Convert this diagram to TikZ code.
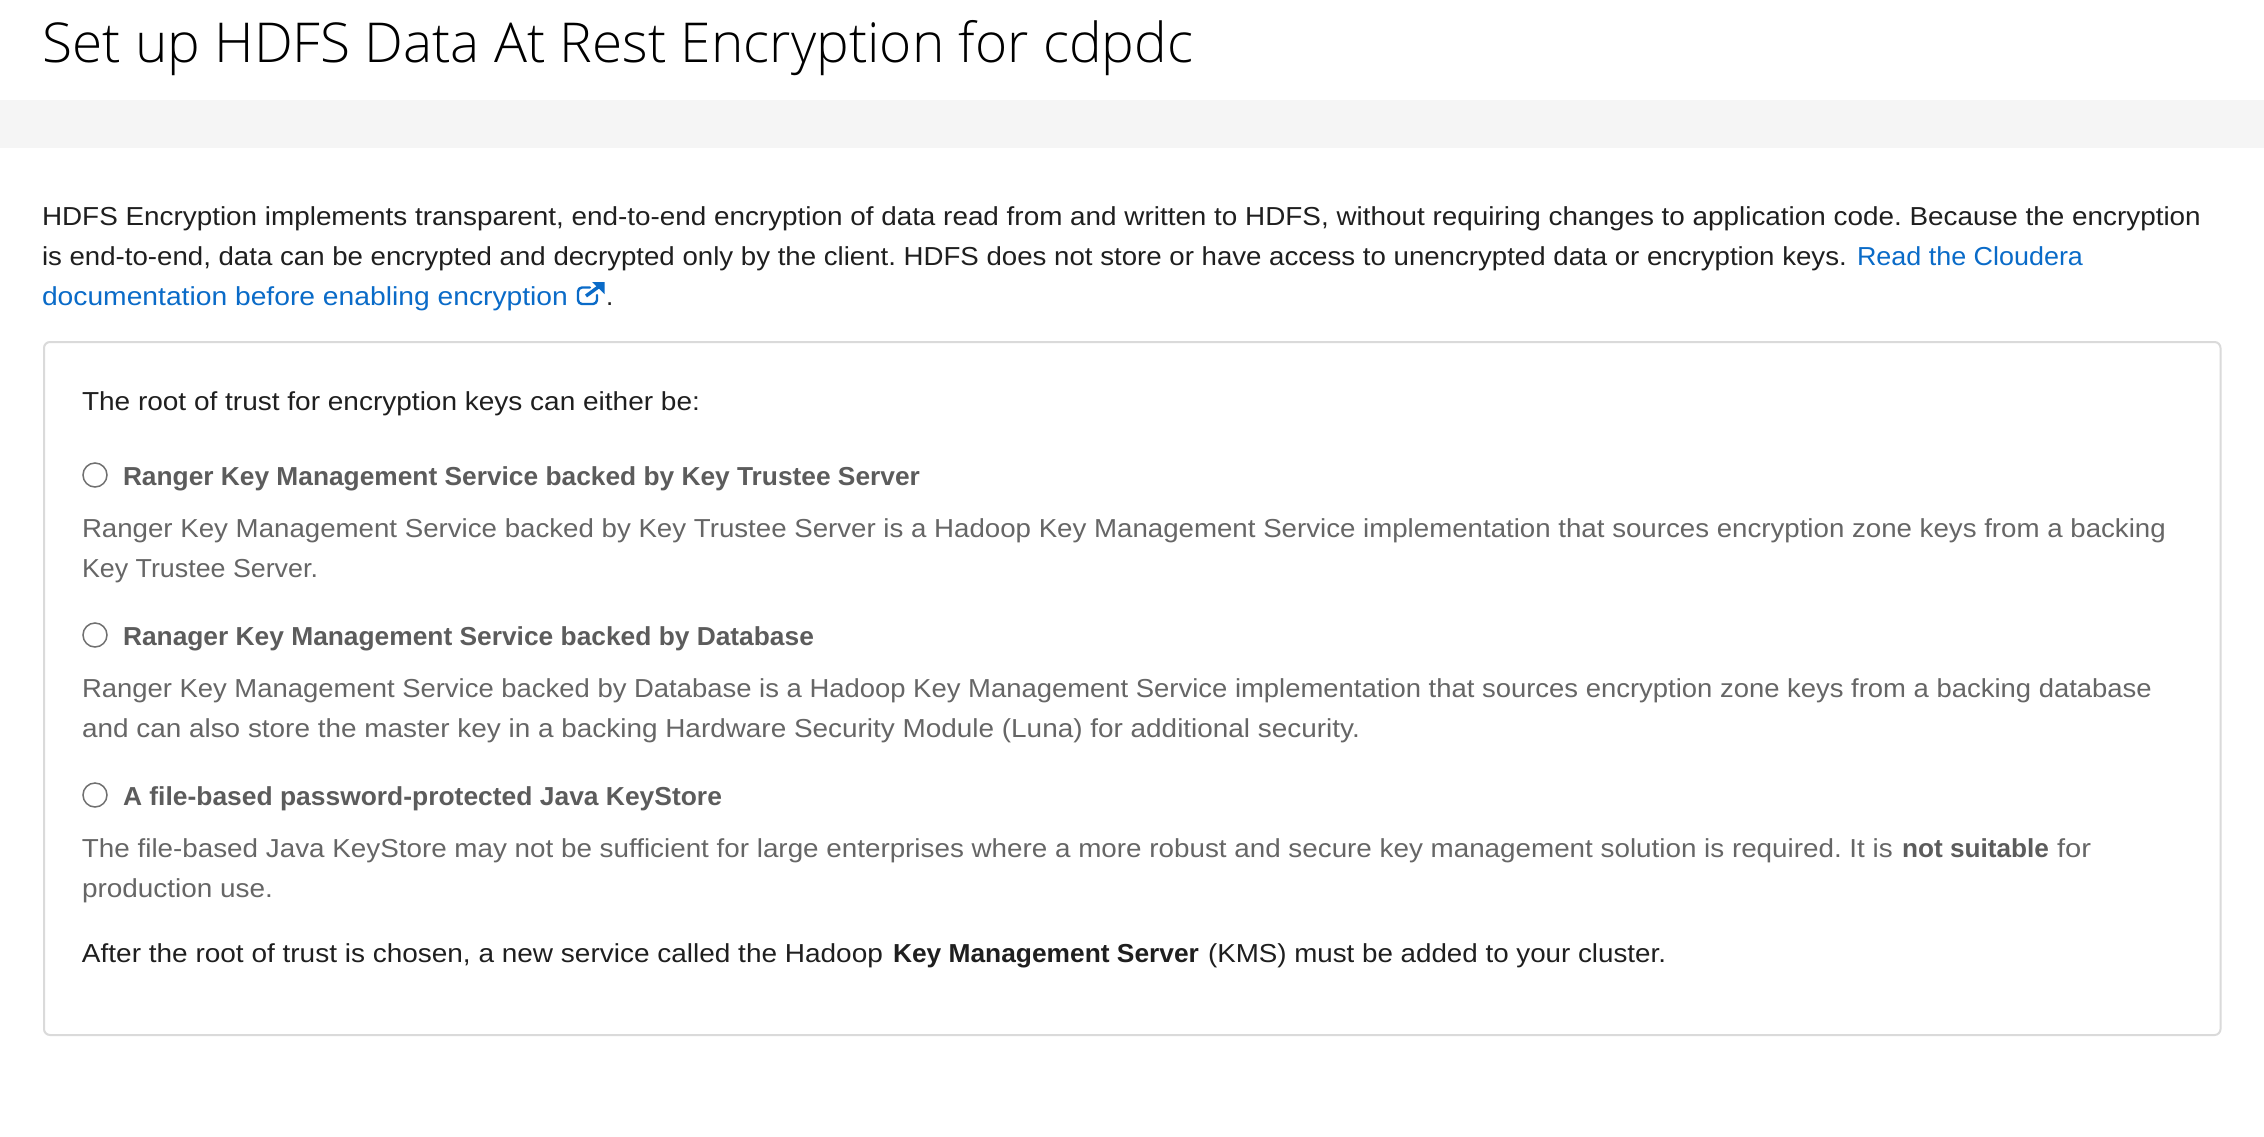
\documentclass[tikz,border=0pt]{standalone}
\usepackage{graphicx}
\usepackage{fontspec}
\setmainfont{Liberation Sans}
\newfontfamily\lighttitle{Open Sans Light}
\AtBeginDocument{\frenchspacing}
\definecolor{bodyink}{HTML}{1F1F1F}
\definecolor{mutedink}{HTML}{666666}
\definecolor{headink}{HTML}{5C5C5C}
\definecolor{linkblue}{HTML}{0A6BC8}
\definecolor{bandgrey}{HTML}{F5F5F5}
\definecolor{rulegrey}{HTML}{DADADA}
\definecolor{radiogrey}{HTML}{707070}
\newsavebox{\fitbox}
% #1 = target width in reference pixels, #2 = text
\newcommand{\fitw}[2]{\sbox{\fitbox}{#2}\pgfmathsetmacro{\fitr}{(#1*0.5)/(\the\wd\fitbox)}\scalebox{\fitr}[1]{\usebox{\fitbox}}}
\tikzset{
  txt/.style={anchor=base west,inner sep=0pt,outer sep=0pt,font=\fontsize{13}{15}\selectfont},
  bodyline/.style={txt,text=bodyink},
  bodybold/.style={txt,text=bodyink,font=\fontsize{13}{15}\selectfont\bfseries},
  linkline/.style={txt,text=linkblue},
  mutedline/.style={txt,text=mutedink},
  headline/.style={txt,text=headink,font=\fontsize{13}{15}\selectfont\bfseries},
  radio/.style={circle,draw=radiogrey,line width=0.75pt,fill=white,minimum size=12pt,inner sep=0pt},
}
\begin{document}
\begin{tikzpicture}[x=0.5pt,y=-0.5pt]
\useasboundingbox (0,0) rectangle (2264,1136);
\fill[white] (0,0) rectangle (2264,1136);
\fill[bandgrey] (0,100) rectangle (2264,148);
\node[anchor=base west,inner sep=0pt,text=black,font=\fontsize{27.5}{32}\lighttitle] (title) at (42,62) {\fitw{1151}{Set up HDFS Data At Rest Encryption for cdpdc}};
\node[bodyline] (l1) at (42,225) {\fitw{2159}{HDFS Encryption implements transparent, end-to-end encryption of data read from and written to HDFS, without requiring changes to application code. Because the encryption}};
\node[bodyline] (l2) at (42,265) {\fitw{1805}{is end-to-end, data can be encrypted and decrypted only by the client. HDFS does not store or have access to unencrypted data or encryption keys.}};
\node[linkline] (l2link) at (1857,265) {\fitw{226}{Read the Cloudera}};
\node[linkline] (l3) at (42,305) {\fitw{526}{documentation before enabling encryption}};
\draw[linkblue,line width=1.2pt,line cap=round,line join=round,rounded corners=2pt]
  (590,287.5) -- (578,287.5) -- (578,304) -- (597,304) -- (597,295);
\draw[linkblue,line width=1.7pt,line join=miter]
  (586,296) -- (601,285);
\fill[linkblue] (592,282) -- (604.5,282) -- (604.5,294) -- cycle;
\node[bodyline] (dot) at (606,305) {.};
\draw[rulegrey,line width=1pt,rounded corners=3pt,fill=white] (44,342) rectangle (2220.5,1035);
\node[bodyline] (intro) at (82,410) {\fitw{618}{The root of trust for encryption keys can either be:}};
\node[radio] (r1) at (95,475) {};
\node[headline] (h1) at (123,485) {\fitw{797}{Ranger Key Management Service backed by Key Trustee Server}};
\node[mutedline] (d1a) at (82,537) {\fitw{2084}{Ranger Key Management Service backed by Key Trustee Server is a Hadoop Key Management Service implementation that sources encryption zone keys from a backing}};
\node[mutedline] (d1b) at (82,577) {\fitw{236}{Key Trustee Server.}};
\node[radio] (r2) at (95,635) {};
\node[headline] (h2) at (123,645) {\fitw{691}{Ranager Key Management Service backed by Database}};
\node[mutedline] (d2a) at (82,697) {\fitw{2070}{Ranger Key Management Service backed by Database is a Hadoop Key Management Service implementation that sources encryption zone keys from a backing database}};
\node[mutedline] (d2b) at (82,737) {\fitw{1278}{and can also store the master key in a backing Hardware Security Module (Luna) for additional security.}};
\node[radio] (r3) at (95,795) {};
\node[headline] (h3) at (123,805) {\fitw{599}{A file-based password-protected Java KeyStore}};
\node[mutedline] (d3a) at (82,857) {\fitw{1811}{The file-based Java KeyStore may not be sufficient for large enterprises where a more robust and secure key management solution is required. It is}};
\node[headline] (d3bold) at (1902,857) {\fitw{147}{not suitable}};
\node[mutedline] (d3end) at (2057,857) {\fitw{34}{for}};
\node[mutedline] (d3b) at (82,897) {\fitw{191}{production use.}};
\node[bodyline] (final) at (82,962) {\fitw{801}{After the root of trust is chosen, a new service called the Hadoop}};
\node[bodybold] (finalbold) at (893,962) {\fitw{306}{Key Management Server}};
\node[bodyline] (finalend) at (1208,962) {\fitw{458}{(KMS) must be added to your cluster.}};
\end{tikzpicture}
\end{document}
